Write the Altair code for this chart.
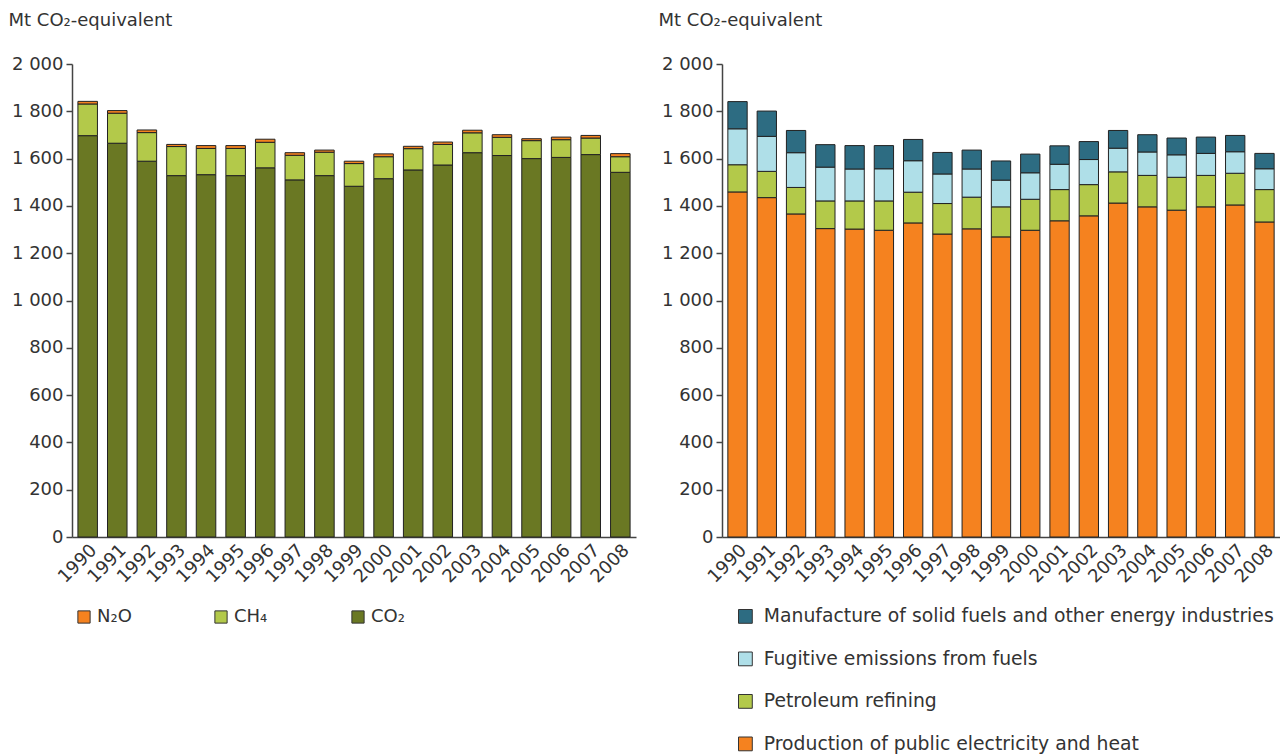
import altair as alt
import pandas as pd

years = [str(y) for y in range(1990, 2009)]

# Left panel: by gas (Mt CO2-equivalent)
co2 = [1697, 1665, 1589, 1528, 1532, 1528, 1561, 1510, 1528, 1483, 1515, 1552, 1573, 1625, 1613, 1600, 1605, 1617, 1542]
ch4 = [134, 127, 121, 123, 111, 115, 108, 104, 99, 96, 93, 90, 87, 84, 77, 76, 75, 70, 66]
n2o = [11, 11, 11, 9, 12, 12, 13, 11, 9, 10, 12, 10, 10, 11, 11, 8, 11, 11, 13]

# Right panel: by sector
public_heat = [1459, 1435, 1366, 1304, 1302, 1297, 1328, 1281, 1303, 1269, 1297, 1337, 1358, 1412, 1396, 1382, 1396, 1404, 1332]
petroleum = [115, 111, 112, 117, 119, 124, 130, 129, 134, 127, 131, 132, 132, 132, 133, 139, 133, 134, 137]
fugitive = [152, 148, 147, 143, 135, 136, 133, 125, 119, 113, 112, 107, 106, 100, 99, 95, 93, 91, 88]
manufacture = [115, 107, 94, 95, 99, 98, 90, 91, 80, 81, 79, 78, 76, 75, 73, 71, 69, 69, 65]

gas_names = ["N\u2082O", "CH\u2084", "CO\u2082"]
gas_colors = ["#f5821f", "#b3c94a", "#6a7823"]
sector_names = [
    "Manufacture of solid fuels and other energy industries",
    "Fugitive emissions from fuels",
    "Petroleum refining",
    "Production of public electricity and heat",
]
sector_colors = ["#2d6c82", "#afdfe8", "#b3c94a", "#f5821f"]

y_title = "Mt CO\u2082-equivalent"
FONT = "DejaVu Sans"
TXT = "#333333"
FS = 18

rows = []
for i, yr in enumerate(years):
    for ordv, (name, vals) in enumerate([(gas_names[2], co2), (gas_names[1], ch4), (gas_names[0], n2o)]):
        rows.append({"year": yr, "gas": name, "value": vals[i], "ord": ordv})
df_gas = pd.DataFrame(rows)

rows = []
for i, yr in enumerate(years):
    for ordv, (name, vals) in enumerate([(sector_names[3], public_heat), (sector_names[2], petroleum),
                                         (sector_names[1], fugitive), (sector_names[0], manufacture)]):
        rows.append({"year": yr, "sector": name, "value": vals[i], "ord": ordv})
df_sec = pd.DataFrame(rows)

label_expr = "replace(format(datum.value, ','), ',', ' ')"


def x_enc():
    return alt.X(
        "year:O",
        scale=alt.Scale(paddingInner=0.34, paddingOuter=0.2),
        axis=alt.Axis(title=None, labelAngle=-45, ticks=False, labelFontSize=FS,
                      labelPadding=4, domainColor="#444", domainWidth=1.5),
    )


def y_enc():
    return alt.Y(
        "value:Q",
        stack="zero",
        scale=alt.Scale(domain=[0, 2000], nice=False),
        axis=alt.Axis(values=list(range(0, 2001, 200)), labelExpr=label_expr, grid=False,
                      title=y_title, titleAngle=0, titleAlign="left", titleBaseline="alphabetic",
                      titleX=-64, titleY=-39, titleFontSize=FS, titleFontWeight="normal",
                      labelFontSize=FS, tickSize=6, labelPadding=3,
                      domainColor="#444", tickColor="#444", domainWidth=1.5, tickWidth=1.5),
    )


left = alt.Chart(df_gas).mark_bar(stroke="#222", strokeWidth=1).encode(
    x=x_enc(),
    y=y_enc(),
    color=alt.Color("gas:N", scale=alt.Scale(domain=gas_names, range=gas_colors),
                    legend=alt.Legend(title=None, orient="none", legendX=3, legendY=544,
                                      direction="horizontal", columns=3, gridAlign="all",
                                      columnPadding=80, symbolType="square", symbolSize=150,
                                      symbolStrokeColor="#333", symbolStrokeWidth=1,
                                      labelFontSize=FS, labelOffset=4, padding=0)),
    order=alt.Order("ord:Q"),
).properties(width=564, height=473)

right = alt.Chart(df_sec).mark_bar(stroke="#222", strokeWidth=1).encode(
    x=x_enc(),
    y=y_enc(),
    color=alt.Color("sector:N", scale=alt.Scale(domain=sector_names, range=sector_colors),
                    legend=alt.Legend(title=None, orient="none", legendX=14, legendY=543,
                                      direction="vertical", rowPadding=22.5,
                                      symbolType="square", symbolSize=190,
                                      symbolStrokeColor="#333", symbolStrokeWidth=1,
                                      labelFontSize=18.8, labelOffset=9, padding=0,
                                      labelLimit=700)),
    order=alt.Order("ord:Q"),
).properties(width=558, height=473)

chart = alt.hconcat(left, right, spacing=86, bounds="flush").resolve_scale(
    color="independent"
).resolve_legend(color="independent").properties(
    padding={"left": 0, "top": 3, "right": 0, "bottom": 0}
).configure(font=FONT).configure_axis(
    labelColor=TXT, titleColor=TXT, labelFont=FONT, titleFont=FONT
).configure_legend(labelColor=TXT, labelFont=FONT).configure_view(stroke=None)

chart.save("out.html", embed_options={"renderer": "svg", "actions": False})
